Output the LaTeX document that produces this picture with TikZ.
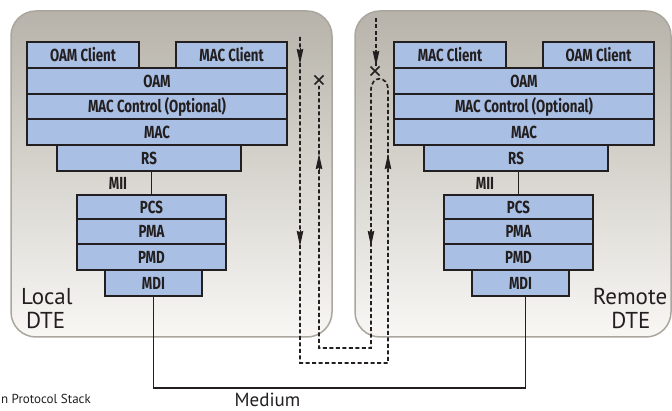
\documentclass[tikz,border=0pt]{standalone}
\usepackage{fontspec}
\setmainfont{PT Sans}
\newfontfamily\labfont[FakeStretch=0.76]{Fira Sans}
\usetikzlibrary{arrows.meta,calc}
\definecolor{boxfill}{RGB}{169,191,227}
\definecolor{ink}{RGB}{35,31,32}
\definecolor{paneltop}{RGB}{183,179,170}
\definecolor{panelbot}{RGB}{248,247,244}
\definecolor{panelline}{RGB}{170,166,157}
\begin{document}
\begin{tikzpicture}[x=1pt,y=-1pt,
  stackbox/.style={draw=ink, line width=1.8pt, fill=boxfill, inner sep=0pt, text=ink,
    font=\labfont\bfseries\fontsize{17.5}{17.5}\selectfont},
  panelbox/.style={rounded corners=25pt, top color=paneltop, bottom color=panelbot, draw=panelline, line width=1.5pt},
  dashline/.style={draw=ink, line width=1.7pt, dash pattern=on 4pt off 2.5pt},
  arrowhd/.style={-{Stealth[length=15pt,width=6.5pt,inset=1pt]}, draw=ink, line width=1pt, solid},
  xmark/.style={draw=ink, line width=1.5pt},
  lbl/.style={text=ink, inner sep=0pt}
]
\useasboundingbox[fill=white] (0,0) rectangle (672,411);
% panels
\path[panelbox] (11,11) rectangle (332,337);
\path[panelbox] (355,11) rectangle (671,337);

% left stack
\node[stackbox, minimum width=112pt, minimum height=26pt] (OAMCl) at (83,55) {OAM Client};
\node[stackbox, minimum width=111pt, minimum height=26pt] (MACCl) at (231.5,55) {MAC Client};
\node[stackbox, minimum width=260pt, minimum height=26pt] (OAMl) at (157,81) {OAM};
\node[stackbox, minimum width=260pt, minimum height=25pt] (MCTl) at (157,106.5) {MAC Control (Optional)};
\node[stackbox, minimum width=260pt, minimum height=26pt] (MACl) at (157,132) {MAC};
\node[stackbox, minimum width=184pt, minimum height=26pt] (RSl) at (149,158) {RS};
\node[stackbox, minimum width=149pt, minimum height=24pt] (PCSl) at (151.5,207) {PCS};
\node[stackbox, minimum width=149pt, minimum height=25pt] (PMAl) at (151.5,231.5) {PMA};
\node[stackbox, minimum width=149pt, minimum height=26pt] (PMDl) at (151.5,257) {PMD};
\node[stackbox, minimum width=97pt, minimum height=26pt] (MDIl) at (153.5,283) {MDI};
\draw[draw=ink, line width=1.8pt] (PCSl.north) -- (PCSl.north |- RSl.south);
\node[lbl, font=\labfont\bfseries\fontsize{17.5}{17.5}\selectfont] (MIIl) at (118,183) {MII};

% right stack
\node[stackbox, minimum width=112pt, minimum height=26pt] (MACCr) at (450,55) {MAC Client};
\node[stackbox, minimum width=111pt, minimum height=26pt] (OAMCr) at (598.5,55) {OAM Client};
\node[stackbox, minimum width=260pt, minimum height=26pt] (OAMr) at (524,81) {OAM};
\node[stackbox, minimum width=260pt, minimum height=25pt] (MCTr) at (524,106.5) {MAC Control (Optional)};
\node[stackbox, minimum width=260pt, minimum height=26pt] (MACr) at (524,132) {MAC};
\node[stackbox, minimum width=184pt, minimum height=26pt] (RSr) at (516,158) {RS};
\node[stackbox, minimum width=149pt, minimum height=24pt] (PCSr) at (518.5,207) {PCS};
\node[stackbox, minimum width=149pt, minimum height=25pt] (PMAr) at (518.5,231.5) {PMA};
\node[stackbox, minimum width=149pt, minimum height=26pt] (PMDr) at (518.5,257) {PMD};
\node[stackbox, minimum width=97pt, minimum height=26pt] (MDIr) at (520.5,283) {MDI};
\draw[draw=ink, line width=1.8pt] (PCSr.north) -- (PCSr.north |- RSr.south);
\node[lbl, font=\labfont\bfseries\fontsize{17.5}{17.5}\selectfont] (MIIr) at (485,183) {MII};

% medium
\draw[draw=ink, line width=1.6pt] (MDIl.south) -- ++(0,91) -| ([xshift=5pt]MDIr.south);
\node[lbl, font=\fontsize{19}{19}\selectfont, anchor=base] (med) at (267.5,406.5) {Medium};

% DTE labels
\node[lbl, font=\fontsize{23}{23}\selectfont, anchor=base west] (loc1) at (21,305) {Local};
\node[lbl, font=\fontsize{23}{23}\selectfont, anchor=base west] (loc2) at (26,329) {DTE};
\node[lbl, font=\fontsize{23}{23}\selectfont, anchor=base] (rem1) at (630,305) {Remote};
\node[lbl, font=\fontsize{23}{23}\selectfont, anchor=base] (rem2) at (631,329) {DTE};

% caption fragment
\node[lbl, font=\fontsize{13}{13}\selectfont, anchor=base east] (cap) at (91,404) {n Protocol Stack};

% loopback path
\coordinate (a0) at (300,37);
\coordinate (a1) at (300,363);
\coordinate (a2) at (388,363);
\coordinate (a3) at (388,90);
\coordinate (a4) at (371,90);
\coordinate (a5) at (371,348);
\coordinate (a6) at (319,348);
\coordinate (a7) at (319,86);
\draw[dashline] (a0) -- (a1) -- (a2) -- (a3) .. controls (388,75) and (371,75) .. (a4) -- (a5) -- (a6) -- (a7);
% remote blocked path
\coordinate (b0) at (376,18);
\coordinate (b1) at (376,66);
\draw[dashline] (b0) -- (b1);

% arrowheads
\draw[arrowhd] (300,48) -- (300,64);
\draw[arrowhd] (300,230) -- (300,246);
\draw[arrowhd] (388,171) -- (388,154);
\draw[arrowhd] (371,229) -- (371,246);
\draw[arrowhd] (319,171) -- (319,154);
\draw[arrowhd] (376,50) -- (376,66);

% x marks
\draw[xmark] (314.5,75.5) -- (323.5,84.5) (314.5,84.5) -- (323.5,75.5);
\draw[xmark] (370.5,66.5) -- (379.5,75.5) (370.5,75.5) -- (379.5,66.5);
\end{tikzpicture}
\end{document}
